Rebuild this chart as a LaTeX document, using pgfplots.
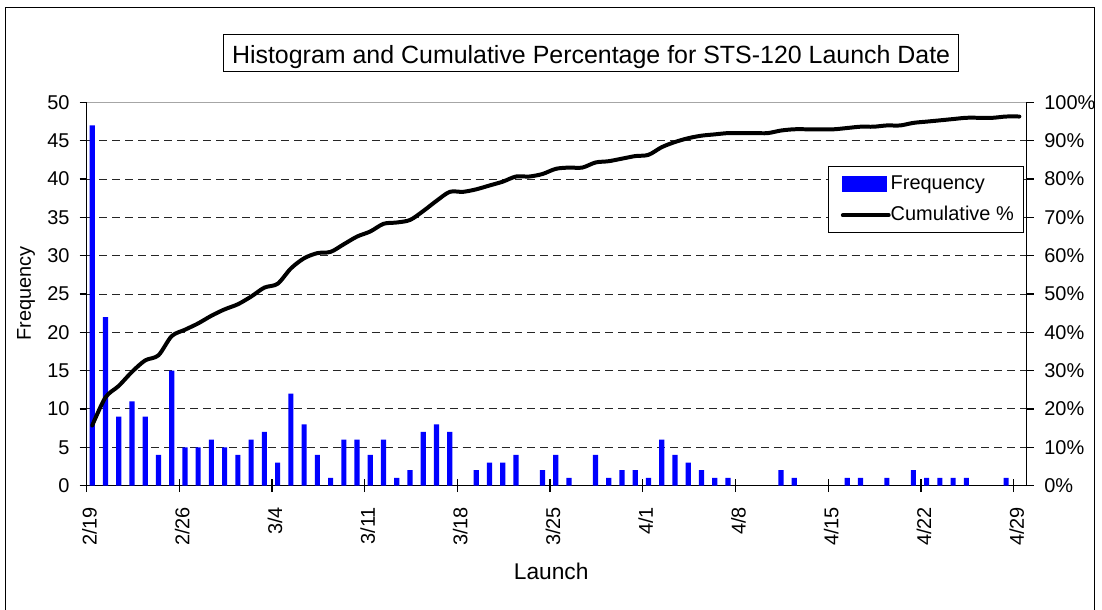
\documentclass[border=0pt]{standalone}
\usepackage{fontspec}
\setmainfont{Liberation Sans}
\usepackage{pgfplots}
\pgfplotsset{compat=1.18}
\usepackage{pgfplotstable}

\pgfplotstableread{
d f
0 47
1 22
2 9
3 11
4 9
5 4
6 15
7 5
8 5
9 6
10 5
11 4
12 6
13 7
14 3
15 12
16 8
17 4
18 1
19 6
20 6
21 4
22 6
23 1
24 2
25 7
26 8
27 7
29 2
30 3
31 3
32 4
34 2
35 4
36 1
38 4
39 1
40 2
41 2
42 1
43 6
44 4
45 3
46 2
47 1
48 1
52 2
53 1
57 1
58 1
60 1
62 2
63 1
64 1
65 1
66 1
69 1
}\freqtable

\pgfplotstableread{
d p
0 15.67
1 23.00
2 26.00
3 29.67
4 32.67
5 34.00
6 39.00
7 40.67
8 42.33
9 44.33
10 46.00
11 47.33
12 49.33
13 51.67
14 52.67
15 56.67
16 59.33
17 60.67
18 61.00
19 63.00
20 65.00
21 66.33
22 68.33
23 68.67
24 69.33
25 71.67
26 74.33
27 76.67
28 76.67
29 77.33
30 78.33
31 79.33
32 80.67
33 80.67
34 81.33
35 82.67
36 83.00
37 83.00
38 84.33
39 84.67
40 85.33
41 86.00
42 86.33
43 88.33
44 89.67
45 90.67
46 91.33
47 91.67
48 92.00
49 92.00
50 92.00
51 92.00
52 92.67
53 93.00
54 93.00
55 93.00
56 93.00
57 93.33
58 93.67
59 93.67
60 94.00
61 94.00
62 94.67
63 95.00
64 95.33
65 95.67
66 96.00
67 96.00
68 96.00
69 96.33
70 96.33
}\cumtable

\begin{document}
\begin{tikzpicture}
% pixel frame: origin at top-left of the 1102x611 image, 1px = 0.5pt
\begin{scope}[shift={(-43.35pt,243.35pt)}, x=0.5pt, y=-0.5pt]
\useasboundingbox (0,0) rectangle (1102,611);
\fill[white] (0,0) rectangle (1102,611);
\draw[line width=0.6pt] (5.7,7.3) rectangle (1097.3,625);
\draw[line width=0.5pt] (224,34.3) rectangle (961,71.7);
\node[anchor=base, inner sep=0pt, font=\fontsize{12.5}{15}\selectfont] at (592.5,63.3) {Histogram and Cumulative Percentage for STS-120 Launch Date};
\node[rotate=90, anchor=base, inner sep=0pt, font=\fontsize{10}{12}\selectfont] at (31,294) {Frequency};
\node[anchor=base, inner sep=0pt, font=\fontsize{11.4}{13}\selectfont] at (552.5,581) {Launch};
\end{scope}

% axis 1: bars, grid, x ticks
\begin{axis}[
  at={(0,0)}, anchor=south west,
  width=471.3pt, height=192pt, scale only axis,
  xmin=0, xmax=71, ymin=0, ymax=50,
  axis x line*=bottom, axis y line*=left,
  axis line style={line width=0.6pt, black},
  xtick={0,7,...,70},
  xticklabels={2/19,2/26,3/4,3/11,3/18,3/25,4/1,4/8,4/15,4/22,4/29},
  ytick={5,10,...,45}, yticklabels={},
  y tick style={draw=none},
  ymajorgrids,
  grid style={black!85, dash pattern=on 4pt off 2.5pt, line width=0.5pt},
  tick align=center, major tick length=6.5pt,
  tick style={black, line width=0.6pt},
  /pgf/number format/assume math mode=true,
  xticklabel style={yshift=-4pt, xshift=1.5pt, rotate=90, anchor=east, font=\fontsize{10}{12}\selectfont},
]
\addplot[ybar, bar width=2.6pt, fill=blue, draw=none] table[x expr=\thisrow{d}+0.43, y=f] {\freqtable};
\draw[gray!70, line width=0.6pt] (rel axis cs:0,1) -- (rel axis cs:1,1);
\end{axis}

% axis 2: left y ticks
\begin{axis}[
  at={(0,0)}, anchor=south west,
  width=471.3pt, height=192pt, scale only axis,
  xmin=0, xmax=71, ymin=0, ymax=50,
  axis x line=none, axis y line*=left,
  axis line style={line width=0.6pt, black},
  ytick={0,5,...,50},
  tick align=outside, major tick length=3.5pt,
  tick style={black, line width=0.6pt},
  /pgf/number format/assume math mode=true,
  yticklabel style={font=\fontsize{10}{12}\selectfont, xshift=-1.5pt},
]
\end{axis}

% axis 3: right y axis, cumulative line, legend
\begin{axis}[
  at={(0,0)}, anchor=south west,
  width=471.3pt, height=192pt, scale only axis,
  xmin=0, xmax=71, ymin=0, ymax=100,
  axis x line=none, axis y line*=right,
  axis line style={line width=0.6pt, black},
  ytick={0,10,...,100},
  yticklabel={\pgfmathprintnumber{\tick}\%},
  tick align=outside, major tick length=3.5pt,
  tick style={black, line width=0.6pt},
  /pgf/number format/assume math mode=true,
  yticklabel style={font=\fontsize{10}{12}\selectfont, xshift=1.7pt},
  legend cell align=left,
  legend style={at={(rel axis cs:0.9968,0.8333)}, anchor=north east,
    draw=black, line width=0.5pt, fill=white,
    font=\fontsize{10}{12}\selectfont,
    inner xsep=4.8pt, inner ysep=3.9pt, row sep=5.8pt, column sep=0pt,
    nodes={inner sep=0pt, text height=7.5pt, text depth=2.2pt}},
]
\addlegendimage{legend image code/.code={\path (-2.2pt,0pt); \fill[blue] (0pt,-3.75pt) rectangle (22pt,3.75pt);}}
\addlegendentry{Frequency}
\addplot[black, line width=2pt, line cap=round, line join=round, smooth,
  legend image code/.code={\draw[black, line width=2pt] (0pt,0pt) -- (23pt,0pt);}]
  table[x expr=\thisrow{d}+0.43, y=p] {\cumtable};
\addlegendentry{Cumulative \%}
\end{axis}
\end{tikzpicture}
\end{document}
